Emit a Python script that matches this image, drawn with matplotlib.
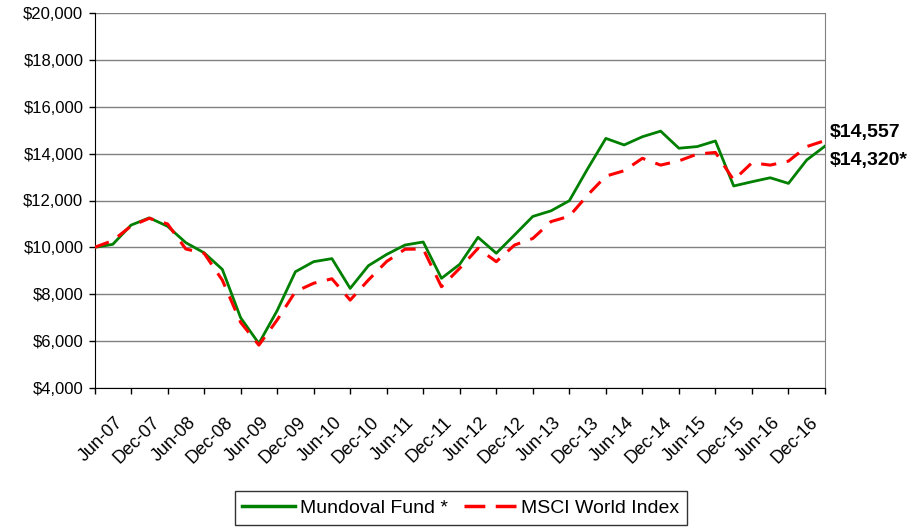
import matplotlib.pyplot as plt
import matplotlib.transforms as mtransforms
from matplotlib.lines import Line2D

plt.rcParams['font.family'] = ['Liberation Sans', 'DejaVu Sans']

# quarterly values, Jun-07 .. Jun-17
fund = [10000, 10130, 10950, 11260, 10900, 10200, 9770, 9060, 7000, 5900,
        7300, 8960, 9390, 9520, 8250, 9220, 9700, 10100, 10230, 8680,
        9280, 10430, 9750, 10530, 11320, 11560, 11990, 13350, 14650, 14370,
        14720, 14960, 14230, 14300, 14540, 12620, 12800, 12970, 12730, 13730,
        14320]
msci = [10000, 10290, 10910, 11240, 11000, 9930, 9750, 8600, 6800, 5830,
        6900, 8110, 8470, 8660, 7750, 8610, 9400, 9920, 9930, 8320,
        9110, 9960, 9390, 10100, 10380, 11100, 11330, 12230, 13040, 13270,
        13800, 13510, 13690, 13980, 14050, 12870, 13610, 13510, 13680, 14300,
        14557]
tick_labels = ['Jun-07', 'Dec-07', 'Jun-08', 'Dec-08', 'Jun-09', 'Dec-09', 'Jun-10',
               'Dec-10', 'Jun-11', 'Dec-11', 'Jun-12', 'Dec-12', 'Jun-13', 'Dec-13',
               'Jun-14', 'Dec-14', 'Jun-15', 'Dec-15', 'Jun-16', 'Dec-16']
y_ticks = [4000, 6000, 8000, 10000, 12000, 14000, 16000, 18000, 20000]

fig = plt.figure(figsize=(9.15, 5.28), dpi=100)
ax = fig.add_axes([94.5 / 915, 1 - 388 / 528, (825 - 94.5) / 915, (388 - 13) / 528])

x = list(range(len(fund)))
ax.plot(x, fund, color='#008000', lw=2.0, zorder=3)
ax.plot(x, msci, color='#ff0000', lw=2.2, dashes=(5, 3.5), zorder=3)

ax.set_xlim(0, len(fund) - 1)
ax.set_ylim(4000, 20000)
ax.set_yticks(y_ticks)
ax.set_yticklabels(['${:,}'.format(v) for v in y_ticks], fontsize=12)
ax.set_xticks(range(0, len(fund), 2))
ax.set_xticklabels([])
# excel puts the slanted labels a bit lower and to the right of the tick
shift = mtransforms.ScaledTranslation(6 / 100, -26 / 100, fig.dpi_scale_trans)
for k, lab in enumerate(tick_labels):
    ax.text(2 * k, 0, lab, transform=ax.get_xaxis_transform() + shift,
            rotation=45, ha='center', va='top', fontsize=13)
ax.tick_params(axis='x', direction='out', length=4.5, width=1, pad=4)
ax.tick_params(axis='y', direction='out', length=4, width=1, pad=4)

ax.yaxis.grid(True, color='#808080', lw=1)
ax.set_axisbelow(True)
ax.spines['top'].set_visible(False)
ax.spines['right'].set_color('#808080')
ax.spines['left'].set_color('black')
ax.spines['bottom'].set_color('black')

ax.annotate('$14,557', xy=(len(msci) - 1, msci[-1]), xytext=(3.5, 5.5),
            textcoords='offset points', fontsize=14, fontweight='bold',
            va='center', ha='left', annotation_clip=False)
ax.annotate('$14,320*', xy=(len(fund) - 1, fund[-1]), xytext=(3.5, -10.5),
            textcoords='offset points', fontsize=14, fontweight='bold',
            va='center', ha='left', annotation_clip=False)

handles = [Line2D([], [], color='#008000', lw=2.5),
           Line2D([], [], color='#ff0000', lw=2.5, dashes=(6, 3))]
leg = fig.legend(handles, ['Mundoval Fund *', 'MSCI World Index'], loc='center',
                 bbox_to_anchor=(461 / 915, 1 - 508 / 528), ncol=2, fontsize=14,
                 frameon=True, fancybox=False, edgecolor='black', handlelength=2.7,
                 columnspacing=0.8, handletextpad=0.27, borderpad=0.4,
                 borderaxespad=0)
leg.get_frame().set_linewidth(1)

fig.savefig('out.png', dpi=100)
